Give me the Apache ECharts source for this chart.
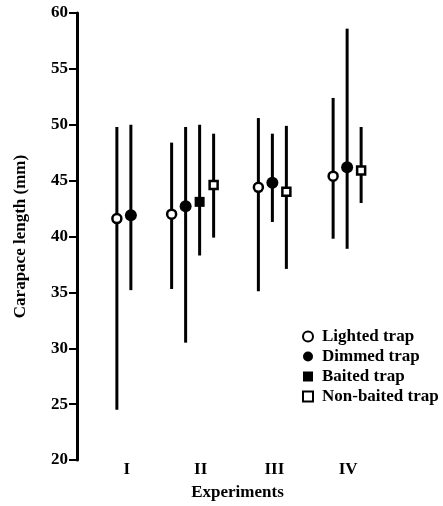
<!DOCTYPE html>
<html>
<head>
<meta charset="utf-8">
<script src="https://cdn.jsdelivr.net/npm/echarts@6/dist/echarts.min.js"></script>
<style>
  html, body { margin: 0; padding: 0; background: #fff; }
  #chart { width: 443px; height: 506px; }
</style>
</head>
<body>
<div id="chart"></div>
<script>
// categories + values (mean, lower end, upper end of bar)
const categories = ['I', 'II', 'III', 'IV']
const yTicks = [20, 25, 30, 35, 40, 45, 50, 55, 60]

const lightedMean = [41.6, 42.0, 44.4, 45.4]
const lightedLow = [24.5, 35.3, 35.1, 39.8]
const lightedHigh = [49.8, 48.4, 50.6, 52.4]

const dimmedMean = [41.9, 42.7, 44.8, 46.2]
const dimmedLow = [35.2, 30.5, 41.3, 38.9]
const dimmedHigh = [50.0, 49.8, 49.2, 58.6]

const baitedMean = [null, 43.1, null, null]
const baitedLow = [null, 38.3, null, null]
const baitedHigh = [null, 50.0, null, null]

const nonBaitedMean = [null, 44.6, 44.0, 45.9]
const nonBaitedLow = [null, 39.9, 37.1, 43.0]
const nonBaitedHigh = [null, 49.2, 49.9, 49.8]

const FONT = 'Liberation Serif'

const traps = [
  { name: 'Lighted trap', mean: lightedMean, low: lightedLow, high: lightedHigh, marker: 'openCircle', icon: 'emptyCircle' },
  { name: 'Dimmed trap', mean: dimmedMean, low: dimmedLow, high: dimmedHigh, marker: 'circle', icon: 'circle' },
  { name: 'Baited trap', mean: baitedMean, low: baitedLow, high: baitedHigh, marker: 'square', icon: 'rect' },
  { name: 'Non-baited trap', mean: nonBaitedMean, low: nonBaitedLow, high: nonBaitedHigh, marker: 'openSquare', icon: 'emptyRect' }
]

// pixel layout of the bars inside each group
const slotGap = 14
const groupShift = [-3, -8, -2, -1]

function slotOffset(trapIdx, catIdx) {
  const present = traps.map((t, i) => t.mean[catIdx] != null ? i : -1).filter(i => i >= 0)
  const slot = present.indexOf(trapIdx)
  return (slot - (present.length - 1) / 2) * slotGap + groupShift[catIdx]
}

function markerShape(kind, x, y) {
  if (kind === 'openCircle') {
    return { type: 'circle', shape: { cx: x, cy: y, r: 4.5 }, style: { fill: '#fff', stroke: '#000', lineWidth: 2.5 } }
  }
  if (kind === 'circle') {
    return { type: 'circle', shape: { cx: x, cy: y, r: 6 }, style: { fill: '#000' } }
  }
  if (kind === 'square') {
    return { type: 'rect', shape: { x: x - 5, y: y - 5, width: 10, height: 10 }, style: { fill: '#000' } }
  }
  return { type: 'rect', shape: { x: x - 4, y: y - 4, width: 8, height: 8 }, style: { fill: '#fff', stroke: '#000', lineWidth: 2.5 } }
}

const chart = echarts.init(document.getElementById('chart'))

const series = traps.map((t, ti) => ({
  name: t.name,
  type: 'custom',
  itemStyle: { color: '#000' },
  data: t.mean.map((m, ci) => m == null ? null : [ci, m, t.low[ci], t.high[ci]]).filter(d => d),
  renderItem(params, api) {
    const ci = api.value(0)
    const mid = api.coord([ci, api.value(1)])
    const lo = api.coord([ci, api.value(2)])
    const hi = api.coord([ci, api.value(3)])
    const x = mid[0] + slotOffset(ti, ci)
    return {
      type: 'group',
      children: [
        { type: 'line', shape: { x1: x, y1: lo[1], x2: x, y2: hi[1] }, style: { stroke: '#000', lineWidth: 3 } },
        markerShape(t.marker, x, mid[1])
      ]
    }
  }
}))

chart.setOption({
  animation: false,
  backgroundColor: '#fff',
  grid: { left: 90, right: 58, top: 13, bottom: 46 },
  legend: {
    orient: 'vertical',
    left: 297,
    top: 323,
    itemWidth: 10,
    itemHeight: 10,
    itemGap: 3,
    textStyle: { fontFamily: FONT, fontWeight: 'bold', fontSize: 17, color: '#000', lineHeight: 17, padding: [0, 0, 0, 4] },
    data: traps.map(t => ({
      name: t.name,
      icon: t.icon,
      itemStyle: t.icon.startsWith('empty')
        ? { color: '#000', borderColor: '#000', borderWidth: 2.5 }
        : { color: '#000', borderWidth: 0 }
    }))
  },
  xAxis: {
    type: 'category',
    data: categories,
    name: 'Experiments',
    nameLocation: 'middle',
    nameGap: 24,
    nameTextStyle: { fontFamily: FONT, fontWeight: 'bold', fontSize: 17, color: '#000' },
    axisLine: { show: false },
    axisTick: { show: false },
    axisLabel: { margin: 1, fontFamily: FONT, fontWeight: 'bold', fontSize: 17, color: '#000' }
  },
  yAxis: {
    type: 'value',
    min: yTicks[0],
    max: yTicks[yTicks.length - 1],
    interval: yTicks[1] - yTicks[0],
    offset: 13,
    name: 'Carapace length (mm)',
    nameLocation: 'middle',
    nameGap: 48,
    nameTextStyle: { fontFamily: FONT, fontWeight: 'bold', fontSize: 17, color: '#000' },
    splitLine: { show: false },
    axisLine: { show: true, lineStyle: { color: '#000', width: 3 } },
    axisTick: { show: true, length: 8, lineStyle: { color: '#000', width: 2 } },
    axisLabel: { margin: 9, fontFamily: FONT, fontWeight: 'bold', fontSize: 17, color: '#000' }
  },
  series
})
</script>
</body>
</html>
